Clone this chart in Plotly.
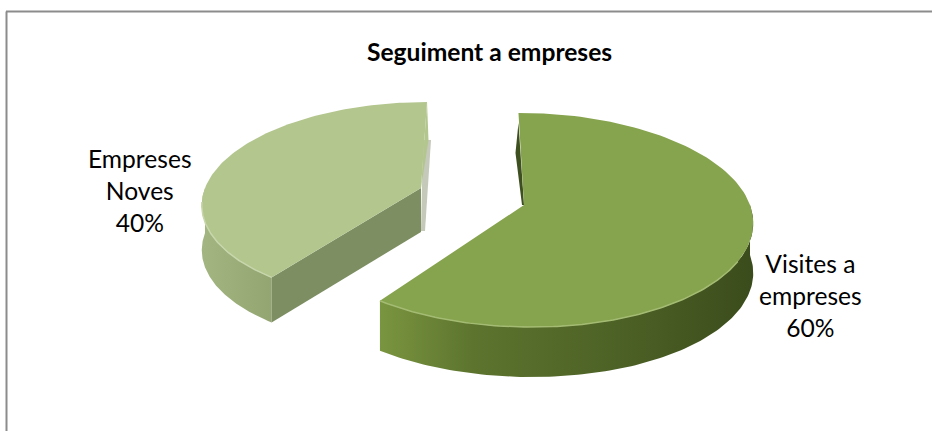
import math
import plotly.graph_objects as go

title = "Seguiment a empreses"
categories = ["Visites a empreses", "Empreses Noves"]
values = [60, 40]
label_lines = [["Visites a", "empreses", "60%"], ["Empreses", "Noves", "40%"]]
top_colors = ["#86a34e", "#b3c68e"]
rim_colors = ["#a3bb72", "#c8d6ac"]
wall_stops = [
    [[0, "#7a9540"], [0.25, "#5c742e"], [0.7, "#4a5e24"], [1, "#3b4c1c"]],
    [[0, "#a3b580"], [1, "#93a672"]],
]
cut_color = "#7c8e62"
dark_cut = "#3f5020"
shadow_color = "#c4c9ba"

W, H = 932, 431
K = 0.14
apex = [(524, 205), (421, 188)]
rad_x = [226, 216]
rad_y = [105, 98]
shear = [0.06, -0.07]
depth = [50, 45]


def project(i, theta):
    t = math.radians(theta)
    d = 1 + K * math.cos(t)
    dy = -rad_y[i] * math.cos(t) / d
    dx = rad_x[i] * math.sin(t) / d + shear[i] * dy
    return apex[i][0] + dx, apex[i][1] + dy


total = sum(values)
spans = []
a = 0.0
for v in values:
    spans.append((a, a + 360.0 * v / total))
    a += 360.0 * v / total


def arc(i, a0, a1, n=120):
    pts = [project(i, a0 + (a1 - a0) * j / n) for j in range(n + 1)]
    return [p[0] for p in pts], [p[1] for p in pts]


fig = go.Figure()


def poly(xs, ys, color=None, gradient=None):
    kw = dict(x=xs + xs[:1], y=ys + ys[:1], mode="lines", fill="toself",
              line=dict(width=0), hoverinfo="skip", showlegend=False)
    if gradient:
        kw["fillgradient"] = dict(type="horizontal", colorscale=gradient)
    else:
        kw["fillcolor"] = color
    fig.add_trace(go.Scatter(**kw))


for i in [1, 0]:
    a0, a1 = spans[i]
    ax, ay = apex[i]
    ex, ey = arc(i, a0, a1)
    dp = depth[i]
    lo = max(a0, 90)
    hi = min(a1, 270)
    wx, wy = arc(i, lo, hi)
    if i == 1:
        # soft shadow of the far cut wall, seen behind the slice
        poly([ax + 2, ax + 10, ax + 4, ax], [ay - 48, ay - 48, ay + dp - 2, ay + dp - 2], shadow_color)
    poly(wx + wx[::-1], wy + [y + dp for y in wy[::-1]], gradient=wall_stops[i])
    if i == 1:
        # straight cut wall facing the viewer
        lx, ly = project(i, a0)
        poly([lx, ax, ax, lx], [ly, ay, ay + dp - 1, ly + dp], cut_color)
    else:
        # narrow dark sliver of the far cut wall
        tx, ty = project(i, a0)
        poly([tx, tx - 3, ax - 2, ax], [ty + 10, ty + 40, ay, ay], dark_cut)
    # top face
    poly(ex + [ax], ey + [ay], top_colors[i])
    if i == 1:
        # slight bend of the far edge of the pale slice
        tx, ty = project(i, a1)
        poly([tx, ax + 7.5, ax], [ty, ay - 48, ay], top_colors[i])
    # bright rim along the front edge of the top face
    rx, ry = arc(i, max(a0, 120), min(a1, 262))
    fig.add_trace(go.Scatter(x=rx, y=ry, mode="lines",
                             line=dict(color=rim_colors[i], width=1.5),
                             hoverinfo="skip", showlegend=False))

annotations = [
    dict(x=489.5, y=51, text="<b>" + title + "</b>"),
    dict(x=810, y=295, text="<br>".join(label_lines[0])),
    dict(x=139.5, y=190, text="<br>".join(label_lines[1])),
]
for an in annotations:
    an.update(xref="x", yref="y", showarrow=False, xanchor="center", yanchor="middle",
              align="center", font=dict(family="Lato", color="#000000", size=24.6))

fig.update_layout(
    width=W, height=H, autosize=False, margin=dict(l=0, r=0, t=0, b=0),
    paper_bgcolor="white", plot_bgcolor="white", annotations=annotations,
    xaxis=dict(range=[0, W], visible=False, fixedrange=True),
    yaxis=dict(range=[H, 0], visible=False, fixedrange=True),
    shapes=[
        dict(type="line", xref="x", yref="y", x0=6.5, y0=H, x1=6.5, y1=11.5,
             line=dict(color="#8c8c8c", width=2)),
        dict(type="line", xref="x", yref="y", x0=6, y0=11.5, x1=W, y1=11.5,
             line=dict(color="#8c8c8c", width=2)),
    ],
)
fig.write_html("out.html", config=dict(displayModeBar=False),
               post_script="document.body.style.margin='0';document.body.style.overflow='hidden';")
